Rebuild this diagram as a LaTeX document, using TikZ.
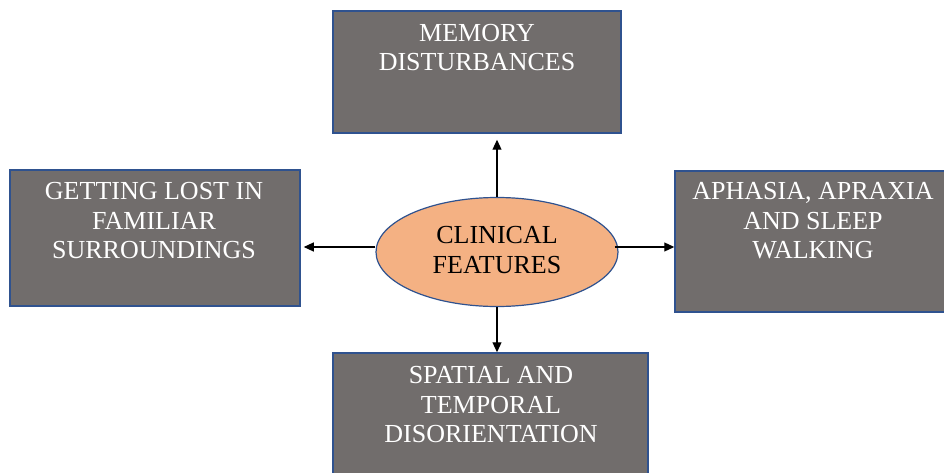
\documentclass[tikz,border=0pt]{standalone}
\usepackage{fontspec}
\setmainfont{Liberation Serif}
\usetikzlibrary{arrows.meta,calc,shapes.geometric}
\definecolor{boxgray}{HTML}{716D6C}
\definecolor{edgeblue}{HTML}{2F528F}
\definecolor{ellorange}{HTML}{F4B183}
\tikzset{
  graybox/.style={draw=edgeblue, line width=1.5pt, fill=boxgray, rectangle, inner sep=0pt},
  boxtext/.style={text=white, align=center, font=\fontsize{26}{29.5}\selectfont, inner sep=0pt},
  ell/.style={draw=edgeblue, line width=1.2pt, fill=ellorange, ellipse, inner sep=0pt,
    minimum width=242pt, minimum height=109pt},
  elltext/.style={text=black, align=center, font=\fontsize{26}{30}\selectfont, inner sep=0pt},
  arr/.style={draw=black, line width=1.1pt, -{Triangle[length=10pt,width=9pt]}}
}
\begin{document}
\begin{tikzpicture}[x=1pt,y=-1pt]
\useasboundingbox (0,0) rectangle (944,473);
\clip (0,0) rectangle (944,473);
% boxes
\node[graybox, minimum width=288pt, minimum height=122pt] (top) at (477,72) {};
\node[boxtext] (toptext) at (477,47.5) {MEMORY\\DISTURBANCES};
\node[graybox, minimum width=290pt, minimum height=136pt] (left) at (155,238) {};
\node[boxtext] (lefttext) at (154,221) {GETTING LOST IN\\FAMILIAR\\SURROUNDINGS};
\node[graybox, minimum width=276pt, minimum height=141pt] (right) at (813,241.5) {};
\node[boxtext] (righttext) at (813,221) {APHASIA, APRAXIA\\AND SLEEP\\WALKING};
\node[graybox, minimum width=315pt, minimum height=140pt] (bottom) at (490.5,423) {};
\node[boxtext] (bottomtext) at (491,405) {SPATIAL AND\\TEMPORAL\\DISORIENTATION};
% ellipse
\node[ell] (clin) at (497,252) {};
\node[elltext] (clintext) at (497,250) {CLINICAL\\FEATURES};
% connectors
\draw[arr] (clin.north) -- ($(clin.north |- top.south)+(0,6)$);
\coordinate (ly) at ($(clin.west)+(0,-5)$);
\draw[arr] (ly) -- ($(ly -| left.east)+(3,0)$);
\coordinate (ry) at ($(clin.east)+(-4,-5)$);
\draw[arr] (ry) -- (ry -| right.west);
\draw[arr] (clin.south) -- (clin.south |- bottom.north);
\end{tikzpicture}
\end{document}
